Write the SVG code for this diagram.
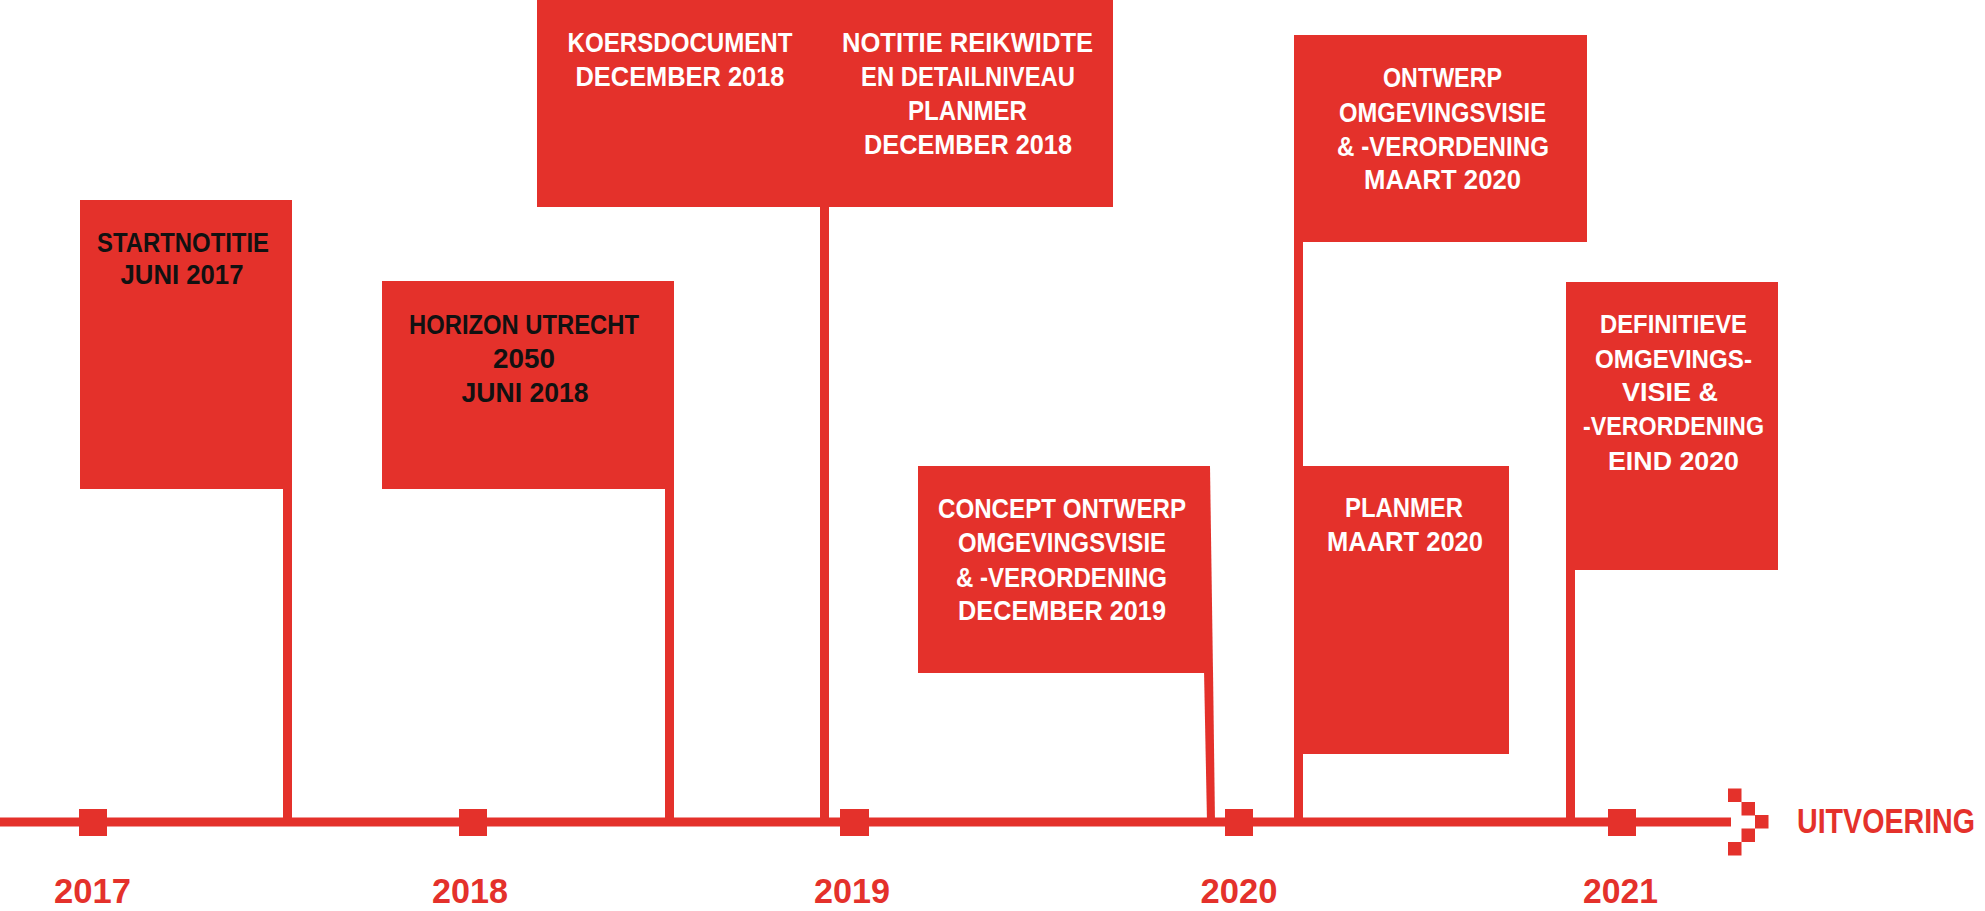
<svg xmlns="http://www.w3.org/2000/svg" width="1985" height="911" viewBox="0 0 1985 911">
<style>
.box{fill:#E4312B}
.red{fill:#E4312B}
.t{font-family:"Liberation Sans",Arial,sans-serif;font-weight:bold;text-anchor:middle}
.w{fill:#FFFFFF;font-size:28px}
.b{fill:#111111;font-size:27px}
.d{fill:#FFFFFF;font-size:26.5px}
.yr{fill:#E4312B;font-size:35px}
</style>
<rect width="1985" height="911" fill="#FFFFFF"/>
<g id="timeline">
  <rect class="red" x="0" y="817.5" width="1731" height="9"/>
  <rect class="red" x="79" y="809" width="28" height="27"/>
  <rect class="red" x="459" y="809" width="28" height="27"/>
  <rect class="red" x="840" y="809" width="29" height="27"/>
  <rect class="red" x="1225" y="809" width="28" height="27"/>
  <rect class="red" x="1608" y="809" width="28" height="27"/>
  <g id="chevron" class="red">
    <rect x="1728" y="788.5" width="13.5" height="13.5"/>
    <rect x="1741.5" y="802" width="13.5" height="13.5"/>
    <rect x="1755" y="815" width="13.5" height="13.5"/>
    <rect x="1741.5" y="828.5" width="13.5" height="13.5"/>
    <rect x="1728" y="842" width="13.5" height="13.5"/>
  </g>
  <text class="t yr" x="92.5" y="903" textLength="77" lengthAdjust="spacingAndGlyphs">2017</text>
  <text class="t yr" x="470" y="903" textLength="76" lengthAdjust="spacingAndGlyphs">2018</text>
  <text class="t yr" x="852" y="903" textLength="76" lengthAdjust="spacingAndGlyphs">2019</text>
  <text class="t yr" x="1239" y="903" textLength="77" lengthAdjust="spacingAndGlyphs">2020</text>
  <text class="t yr" x="1620.5" y="903" textLength="75" lengthAdjust="spacingAndGlyphs">2021</text>
  <text class="t yr" x="1886" y="833" font-size="30" textLength="178" lengthAdjust="spacingAndGlyphs">UITVOERING</text>
</g>
<g id="connectors" class="red">
  <rect x="283" y="480" width="9" height="342"/>
  <rect x="665" y="480" width="9" height="342"/>
  <rect x="820" y="200" width="9" height="622"/>
  <polygon points="1204,670 1213,670 1215,822 1207,822"/>
  <rect x="1294" y="235" width="9" height="587"/>
  <rect x="1566" y="560" width="9" height="262"/>
</g>
<g id="node-startnotitie">
  <rect class="box" x="80" y="200" width="212" height="289"/>
  <text class="t b" x="183" y="252" textLength="172" lengthAdjust="spacingAndGlyphs">STARTNOTITIE</text>
  <text class="t b" x="182" y="284" textLength="123" lengthAdjust="spacingAndGlyphs">JUNI 2017</text>
</g>
<g id="node-horizon">
  <rect class="box" x="382" y="281" width="292" height="208"/>
  <text class="t b" x="524" y="334" textLength="230" lengthAdjust="spacingAndGlyphs">HORIZON UTRECHT</text>
  <text class="t b" x="524" y="368" textLength="62" lengthAdjust="spacingAndGlyphs">2050</text>
  <text class="t b" x="525" y="402" textLength="127" lengthAdjust="spacingAndGlyphs">JUNI 2018</text>
</g>
<g id="node-koersdocument-notitie">
  <rect class="box" x="537" y="0" width="576" height="207"/>
  <text class="t w" x="680" y="52" textLength="225" lengthAdjust="spacingAndGlyphs">KOERSDOCUMENT</text>
  <text class="t w" x="680" y="86" textLength="209" lengthAdjust="spacingAndGlyphs">DECEMBER 2018</text>
  <text class="t w" x="967.5" y="52" textLength="251" lengthAdjust="spacingAndGlyphs">NOTITIE REIKWIDTE</text>
  <text class="t w" x="968" y="86" textLength="214" lengthAdjust="spacingAndGlyphs">EN DETAILNIVEAU</text>
  <text class="t w" x="967.5" y="120" textLength="119" lengthAdjust="spacingAndGlyphs">PLANMER</text>
  <text class="t w" x="968" y="154" textLength="208" lengthAdjust="spacingAndGlyphs">DECEMBER 2018</text>
</g>
<g id="node-concept">
  <polygon class="box" points="918,466 1210,466 1213,673 918,673"/>
  <text class="t w" x="1062" y="518" textLength="248" lengthAdjust="spacingAndGlyphs">CONCEPT ONTWERP</text>
  <text class="t w" x="1062" y="552" textLength="208" lengthAdjust="spacingAndGlyphs">OMGEVINGSVISIE</text>
  <text class="t w" x="1061.5" y="587" textLength="211" lengthAdjust="spacingAndGlyphs">&amp; -VERORDENING</text>
  <text class="t w" x="1062" y="620" textLength="208" lengthAdjust="spacingAndGlyphs">DECEMBER 2019</text>
</g>
<g id="node-ontwerp">
  <rect class="box" x="1294" y="35" width="293" height="207"/>
  <text class="t w" x="1442.5" y="87" textLength="119" lengthAdjust="spacingAndGlyphs">ONTWERP</text>
  <text class="t w" x="1442.5" y="122" textLength="207" lengthAdjust="spacingAndGlyphs">OMGEVINGSVISIE</text>
  <text class="t w" x="1443" y="156" textLength="212" lengthAdjust="spacingAndGlyphs">&amp; -VERORDENING</text>
  <text class="t w" x="1442.5" y="189" textLength="157" lengthAdjust="spacingAndGlyphs">MAART 2020</text>
</g>
<g id="node-planmer">
  <rect class="box" x="1294" y="466" width="215" height="288"/>
  <text class="t w" x="1404" y="517" textLength="118" lengthAdjust="spacingAndGlyphs">PLANMER</text>
  <text class="t w" x="1405" y="551" textLength="156" lengthAdjust="spacingAndGlyphs">MAART 2020</text>
</g>
<g id="node-definitieve">
  <rect class="box" x="1566" y="282" width="212" height="288"/>
  <text class="t d" x="1673.5" y="333" textLength="147" lengthAdjust="spacingAndGlyphs">DEFINITIEVE</text>
  <text class="t d" x="1673.5" y="368" textLength="157" lengthAdjust="spacingAndGlyphs">OMGEVINGS-</text>
  <text class="t d" x="1670" y="401" textLength="96" lengthAdjust="spacingAndGlyphs">VISIE &amp;</text>
  <text class="t d" x="1673.5" y="435" textLength="181" lengthAdjust="spacingAndGlyphs">-VERORDENING</text>
  <text class="t d" x="1673.5" y="470" textLength="131" lengthAdjust="spacingAndGlyphs">EIND 2020</text>
</g>
</svg>
